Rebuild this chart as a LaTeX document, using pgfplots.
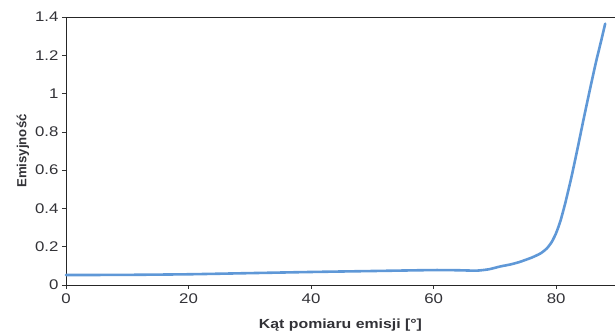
\documentclass[border=0pt]{standalone}
\usepackage{pgfplots}
\pgfplotsset{compat=1.18}
\usepackage{fontspec}
\setmainfont{Liberation Sans}[FakeStretch=1.2]
\newfontfamily\vfont{Liberation Sans}
\definecolor{curve}{RGB}{95,152,215}
\definecolor{txt}{RGB}{50,50,55}
\begin{document}
\begin{tikzpicture}
\begin{axis}[
  name=ax,
  scale only axis,
  width=549pt, height=268pt,
  xmin=0, xmax=89.6, ymin=0, ymax=1.4,
  axis x line=box, axis y line=left,
  axis line style={-, black!85, line width=0.9pt},
  xtick={0,20,40,60,80},
  ytick={0,0.2,0.4,0.6,0.8,1,1.2,1.4},
  yticklabels={0,0.2,0.4,0.6,0.8,1,1.2,1.4},
  xtick pos=bottom, ytick pos=left,
  tick align=outside,
  major tick length=4pt,
  tick style={black!80, line width=0.6pt},
  /pgf/number format/assume math mode=true,
  tick label style={font=\fontsize{14}{16}\selectfont, text=txt},
  xticklabel style={yshift=-1pt},
  xlabel={\textbf{Kąt pomiaru emisji [°]}},
  ylabel={\vfont\bfseries Emisyjność},
  every axis x label/.style={at={(rel axis cs:0.5,0)}, yshift=-40pt, anchor=center},
  every axis y label/.style={at={(rel axis cs:0,0.5)}, xshift=-43pt, rotate=90, anchor=center},
  label style={font=\fontsize{13.2}{15}\selectfont, text=txt},
  clip=false,
]
\addplot[curve, line width=2.6pt, line join=round, line cap=round, smooth, tension=0.35] coordinates {
(0,0.052) (10,0.053) (20,0.056) (30,0.062) (40,0.068) (50,0.073) (60,0.078)
(64,0.077) (67,0.075) (69,0.082) (70.9,0.097) (72.5,0.107) (74,0.12) (76,0.143)
(77.5,0.166) (78.5,0.192) (79.3,0.226) (80,0.272) (80.7,0.335) (81.5,0.43)
(82.5,0.565) (83.5,0.715) (84.5,0.87) (85.5,1.02) (86.5,1.165) (87.3,1.27) (88,1.365)
};
\end{axis}
\pgfresetboundingbox
\path ([xshift=-66pt,yshift=-48pt]ax.south west) rectangle ([yshift=17pt]ax.north east);
\end{tikzpicture}
\end{document}
